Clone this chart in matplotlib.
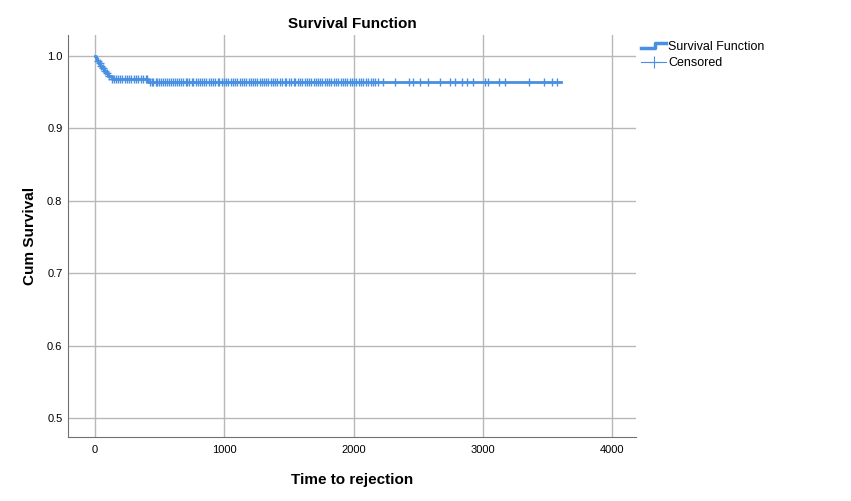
import numpy as np
import matplotlib
matplotlib.use("Agg")
import matplotlib.pyplot as plt
from matplotlib.legend_handler import HandlerBase
from matplotlib.lines import Line2D

plt.rcParams['font.family'] = ['Liberation Sans', 'DejaVu Sans']

# survival function steps (time, cum survival)
event_times = [0, 8, 18, 30, 42, 55, 70, 85, 100, 128, 412]
surv_values = [1.0, 0.9966, 0.9932, 0.9898, 0.9864, 0.9830, 0.9796, 0.9762,
               0.9728, 0.9690, 0.9643]
end_time = 3600

# censored times
censored = [25, 38, 50, 62, 78, 92, 110, 135, 150, 162, 178, 195, 212, 230,
            248, 262, 280, 300, 318, 335, 352, 372, 392, 405,
            425, 438, 450, 468, 480, 495, 510, 522, 540, 555, 570, 590, 602,
            618, 635, 650, 668, 680, 700, 712, 730, 748, 760, 780, 795, 810,
            828, 845, 860, 880, 895, 912, 930, 948, 962, 980, 1000, 1015,
            1030, 1048, 1065, 1080, 1100, 1118, 1135, 1150, 1170, 1188, 1205,
            1220, 1240, 1255, 1272, 1290, 1308, 1325, 1340, 1358, 1378, 1395,
            1410, 1430, 1448, 1465, 1480, 1500, 1518, 1535, 1550, 1568, 1585,
            1600, 1620, 1638, 1655, 1672, 1690, 1705, 1722, 1740, 1758, 1775,
            1790, 1810, 1828, 1845, 1862, 1880, 1898, 1915, 1932, 1950, 1968,
            1985, 2000, 2020, 2040, 2058, 2075, 2095, 2110, 2130, 2150, 2168,
            2185, 2230, 2320, 2431, 2462, 2514, 2573, 2668, 2746, 2784, 2836,
            2875, 2926, 3016, 3042, 3120, 3171, 3352, 3468, 3533, 3572]

blue = '#4a90e2'

fig = plt.figure(figsize=(8.51, 5.01), dpi=100)
ax = fig.add_axes([0.0799, 0.1277, 0.6675, 0.8023])

st = event_times + [end_time]
sv = surv_values + [surv_values[-1]]
ax.step(st, sv, where='post', color=blue, lw=2, zorder=3)

idx = np.searchsorted(event_times, censored, side='right') - 1
cy = np.array(surv_values)[idx]
ax.plot(censored, cy, ls='none', marker='+', ms=5.5, mew=1, color=blue, zorder=4)

ax.set_xlim(-209, 4183)
ax.set_ylim(0.474, 1.029)
ax.set_xticks([0, 1000, 2000, 3000, 4000])
ax.set_yticks([0.5, 0.6, 0.7, 0.8, 0.9, 1.0])
ax.yaxis.set_major_formatter(plt.FormatStrFormatter('%.1f'))
ax.grid(True, color='#b8b8b8', lw=1)
ax.set_axisbelow(True)
for s in ['top', 'right']:
    ax.spines[s].set_visible(False)
for s in ['left', 'bottom']:
    ax.spines[s].set_color('#707070')
ax.tick_params(length=0, labelsize=8)
ax.tick_params(axis='x', pad=6)
ax.tick_params(axis='y', pad=4)

ax.set_title('Survival Function', fontsize=11, fontweight='bold', pad=5)
ax.set_xlabel('Time to rejection', fontsize=11, fontweight='bold', labelpad=13)
ax.set_ylabel('Cum Survival', fontsize=11, fontweight='bold', labelpad=7)


class StepHandler(HandlerBase):
    def create_artists(self, legend, orig_handle, xdescent, ydescent,
                       width, height, fontsize, trans):
        x = [-xdescent, -xdescent + width * 0.55, -xdescent + width * 0.55,
             -xdescent + width]
        y = [height * 0.2, height * 0.2, height * 0.8, height * 0.8]
        ln = Line2D(x, y, color=blue, lw=2.5, transform=trans)
        return [ln]


step_handle = Line2D([], [], color=blue)
cens_handle = Line2D([], [], color=blue, lw=0.8, marker='+', ms=9, mew=0.8)
fig.legend([step_handle, cens_handle], ['Survival Function', 'Censored'],
           handler_map={step_handle: StepHandler()},
           loc='upper left', bbox_to_anchor=(0.7475, 0.928), frameon=False,
           fontsize=9, handlelength=2.0, handletextpad=0.15, labelspacing=0.35,
           borderaxespad=0)

fig.savefig('out.png', dpi=100)
